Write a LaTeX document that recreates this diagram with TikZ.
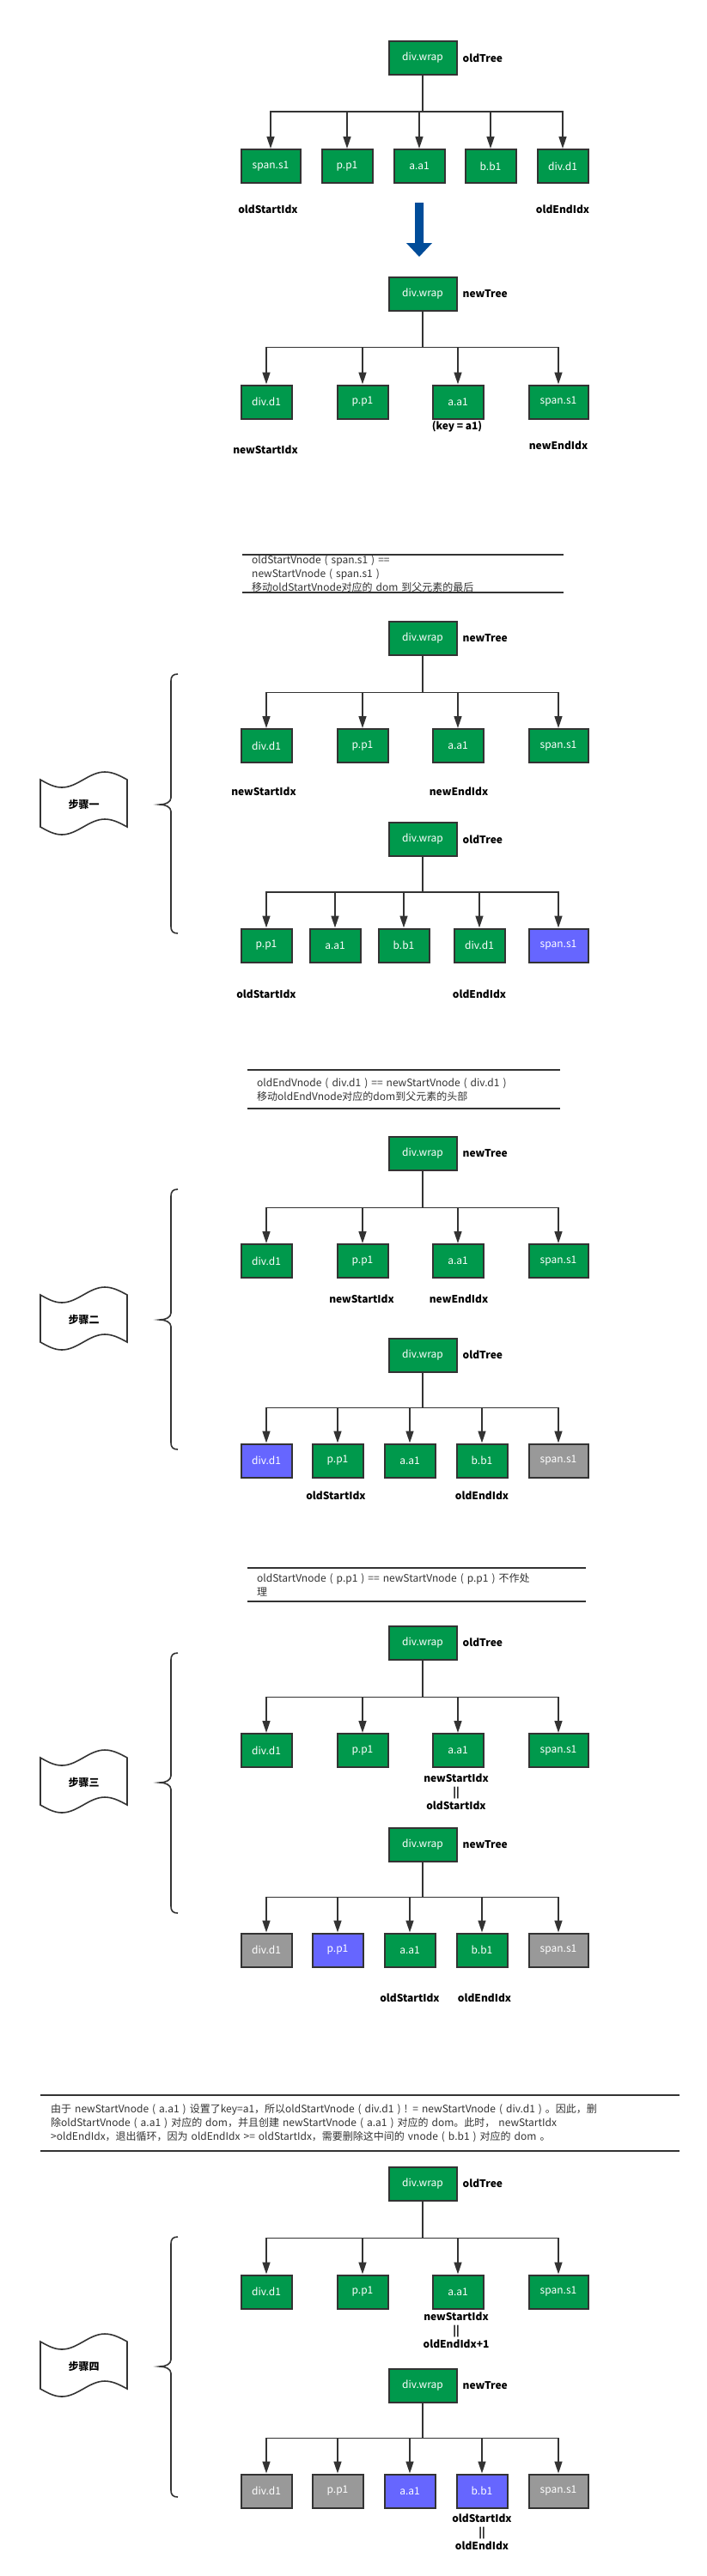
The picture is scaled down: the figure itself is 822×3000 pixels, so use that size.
\documentclass[tikz,border=0pt]{standalone}
\usepackage{fontspec}
\setmainfont{Noto Sans CJK SC}
\usepackage{tikz}
\usetikzlibrary{positioning, arrows.meta, calc}

\definecolor{vgreen}{RGB}{0,153,76}
\definecolor{vblue}{RGB}{102,102,255}
\definecolor{vgray}{RGB}{153,153,153}
\definecolor{ink}{RGB}{51,51,51}
\definecolor{bigblue}{RGB}{0,76,153}

\begin{document}
\begin{tikzpicture}[x=1pt, y=-1pt]
				\tikzset{vnode/.style={draw=ink, line width=2pt, fill=vgreen, text=white, minimum width=59pt, minimum height=39pt, inner sep=0pt, font=\fontsize{12}{14}\selectfont}}
				\tikzset{wide/.style={minimum width=69pt}}
				\tikzset{root/.style={vnode, minimum width=79pt}}
				\tikzset{moved/.style={fill=vblue}}
				\tikzset{dropped/.style={fill=vgray}}
				\tikzset{arrow/.style={-{Triangle[length=14pt, width=9pt]}, draw=ink, line width=1.6pt}}
				\tikzset{treename/.style={font=\bfseries\fontsize{12}{14}\selectfont, inner sep=0pt}}
				\tikzset{idx/.style={font=\bfseries\fontsize{12}{16}\selectfont, align=center, inner sep=0pt}}
				\tikzset{desc/.style={anchor=north west, align=left, text=ink, inner xsep=11pt, font=\fontsize{12}{16}\selectfont}}
				\tikzset{sepline/.style={draw=ink, line width=2pt}}
				\tikzset{curly/.style={draw=ink, line width=1.6pt}}
				\tikzset{tape/.style={draw=ink, line width=1.6pt, fill=white}}

				\useasboundingbox [fill=white] (0,0) rectangle (822,3000);

				% Old tree
				\node (t0root) [root] at (492,67.5) {div.wrap};
				\node (t0name) [treename, right=6pt of t0root] {oldTree};
				\node (t0a) [vnode, wide] at (315,193.5) {span.s1};
				\node (t0b) [vnode] at (404,193.5) {p.p1};
				\node (t0c) [vnode] at (488,193.5) {a.a1};
				\node (t0d) [vnode] at (571,193.5) {b.b1};
				\node (t0e) [vnode] at (655,193.5) {div.d1};
				\foreach \c in {t0a,t0b,t0c,t0d,t0e}
					\draw [arrow] (t0root.south) -- ++(0,42) -| (\c.north);
				\node (t0start) [idx] at (312,244) {oldStartIdx};
				\node (t0end) [idx] at (655,244) {oldEndIdx};

				% Big arrow
				\fill [bigblue] (483,236) -- (493,236) -- (493,283) -- (503,283) -- (488,299) -- (473,283) -- (483,283) -- cycle;

				% New tree
				\node (n0root) [root] at (492,342) {div.wrap};
				\node (n0name) [treename, right=6pt of n0root] {newTree};
				\node (n0a) [vnode] at (310,468) {div.d1};
				\node (n0b) [vnode] at (422,468) {p.p1};
				\node (n0c) [vnode] at (533,468) {a.a1};
				\node (n0d) [vnode, wide] at (650,468) {span.s1};
				\foreach \c in {n0a,n0b,n0c,n0d}
					\draw [arrow] (n0root.south) -- ++(0,42) -| (\c.north);
				\node (n0key) [idx] at (532,497) {(key = a1)};
				\node (n0start) [idx] at (309,524) {newStartIdx};
				\node (n0end) [idx] at (650,519) {newEndIdx};

				% Step 1
				\node (desc1) [desc, text width=352pt, inner ysep=0.5pt] at (282,646) {oldStartVnode ( span.s1 ) ==\\newStartVnode ( span.s1 )\\移动oldStartVnode对应的 dom 到父元素的最后};
				\draw [sepline] (desc1.north west) -- (desc1.north east);
				\draw [sepline] (desc1.south west) -- (desc1.south east);

				\node (n1root) [root] at (492,743) {div.wrap};
				\node (n1name) [treename, right=6pt of n1root] {newTree};
				\node (n1a) [vnode] at (310,868.5) {div.d1};
				\node (n1b) [vnode] at (422,868.5) {p.p1};
				\node (n1c) [vnode] at (533,868.5) {a.a1};
				\node (n1d) [vnode, wide] at (650,868.5) {span.s1};
				\foreach \c in {n1a,n1b,n1c,n1d}
					\draw [arrow] (n1root.south) -- ++(0,43) -| (\c.north);
				\node (n1start) [idx] at (307,922) {newStartIdx};
				\node (n1end) [idx] at (534,922) {newEndIdx};

				\node (o1root) [root] at (492,977.5) {div.wrap};
				\node (o1name) [treename, right=6pt of o1root] {oldTree};
				\node (o1a) [vnode] at (310,1101) {p.p1};
				\node (o1b) [vnode] at (390,1101) {a.a1};
				\node (o1c) [vnode] at (470,1101) {b.b1};
				\node (o1d) [vnode] at (558,1101) {div.d1};
				\node (o1e) [vnode, wide, moved] at (650,1101) {span.s1};
				\foreach \c in {o1a,o1b,o1c,o1d,o1e}
					\draw [arrow] (o1root.south) -- ++(0,41) -| (\c.north);
				\node (o1start) [idx] at (310,1158) {oldStartIdx};
				\node (o1end) [idx] at (558,1158) {oldEndIdx};

				% Step 2
				\node (desc2) [desc, text width=342pt, inner ysep=9pt] at (288,1246) {oldEndVnode ( div.d1 ) == newStartVnode ( div.d1 )\\移动oldEndVnode对应的dom到父元素的头部};
				\draw [sepline] (desc2.north west) -- (desc2.north east);
				\draw [sepline] (desc2.south west) -- (desc2.south east);

				\node (n2root) [root] at (492,1343) {div.wrap};
				\node (n2name) [treename, right=6pt of n2root] {newTree};
				\node (n2a) [vnode] at (310,1468.5) {div.d1};
				\node (n2b) [vnode] at (422,1468.5) {p.p1};
				\node (n2c) [vnode] at (533,1468.5) {a.a1};
				\node (n2d) [vnode, wide] at (650,1468.5) {span.s1};
				\foreach \c in {n2a,n2b,n2c,n2d}
					\draw [arrow] (n2root.south) -- ++(0,43) -| (\c.north);
				\node (n2start) [idx] at (421,1513) {newStartIdx};
				\node (n2end) [idx] at (534,1513) {newEndIdx};

				\node (o2root) [root] at (492,1578) {div.wrap};
				\node (o2name) [treename, right=6pt of o2root] {oldTree};
				\node (o2a) [vnode, moved] at (310,1701) {div.d1};
				\node (o2b) [vnode] at (393,1701) {p.p1};
				\node (o2c) [vnode] at (477,1701) {a.a1};
				\node (o2d) [vnode] at (561,1701) {b.b1};
				\node (o2e) [vnode, wide, dropped] at (650,1701) {span.s1};
				\foreach \c in {o2a,o2b,o2c,o2d,o2e}
					\draw [arrow] (o2root.south) -- ++(0,41) -| (\c.north);
				\node (o2start) [idx] at (391,1742) {oldStartIdx};
				\node (o2end) [idx] at (561,1742) {oldEndIdx};

				% Step 3
				\node (desc3) [desc, text width=372pt, inner ysep=6pt] at (288,1826) {oldStartVnode ( p.p1 ) == newStartVnode ( p.p1 ) 不作处\\理};
				\draw [sepline] (desc3.north west) -- (desc3.north east);
				\draw [sepline] (desc3.south west) -- (desc3.south east);

				\node (o3root) [root] at (492,1913) {div.wrap};
				\node (o3name) [treename, right=6pt of o3root] {oldTree};
				\node (o3a) [vnode] at (310,2038.5) {div.d1};
				\node (o3b) [vnode] at (422,2038.5) {p.p1};
				\node (o3c) [vnode] at (533,2038.5) {a.a1};
				\node (o3d) [vnode, wide] at (650,2038.5) {span.s1};
				\foreach \c in {o3a,o3b,o3c,o3d}
					\draw [arrow] (o3root.south) -- ++(0,43) -| (\c.north);
				\node (o3same) [idx] at (531,2087) {newStartIdx\\||\\oldStartIdx};

				\node (n3root) [root] at (492,2148) {div.wrap};
				\node (n3name) [treename, right=6pt of n3root] {newTree};
				\node (n3a) [vnode, dropped] at (310,2271) {div.d1};
				\node (n3b) [vnode, moved] at (393,2271) {p.p1};
				\node (n3c) [vnode] at (477,2271) {a.a1};
				\node (n3d) [vnode] at (561,2271) {b.b1};
				\node (n3e) [vnode, wide, dropped] at (650,2271) {span.s1};
				\foreach \c in {n3a,n3b,n3c,n3d,n3e}
					\draw [arrow] (n3root.south) -- ++(0,41) -| (\c.north);
				\node (n3start) [idx] at (477,2327) {oldStartIdx};
				\node (n3end) [idx] at (564,2327) {oldEndIdx};

				% Step 4
				\node (desc4) [desc, text width=720pt, inner xsep=12pt, inner ysep=10pt] at (47,2440) {由于 newStartVnode ( a.a1 ) 设置了key=a1，所以oldStartVnode ( div.d1 ) ! = newStartVnode ( div.d1 ) 。因此，删\\除oldStartVnode ( a.a1 ) 对应的 dom，并且创建 newStartVnode ( a.a1 ) 对应的 dom。此时， newStartIdx\\>oldEndIdx，退出循环，因为 oldEndIdx >= oldStartIdx，需要删除这中间的 vnode ( b.b1 ) 对应的 dom 。};
				\draw [sepline] (desc4.north west) -- (desc4.north east);
				\draw [sepline] (desc4.south west) -- (desc4.south east);

				\node (o4root) [root] at (492,2543) {div.wrap};
				\node (o4name) [treename, right=6pt of o4root] {oldTree};
				\node (o4a) [vnode] at (310,2669) {div.d1};
				\node (o4b) [vnode] at (422,2669) {p.p1};
				\node (o4c) [vnode] at (533,2669) {a.a1};
				\node (o4d) [vnode, wide] at (650,2669) {span.s1};
				\foreach \c in {o4a,o4b,o4c,o4d}
					\draw [arrow] (o4root.south) -- ++(0,43) -| (\c.north);
				\node (o4same) [idx] at (531,2714) {newStartIdx\\||\\oldEndIdx+1};

				\node (n4root) [root] at (492,2778) {div.wrap};
				\node (n4name) [treename, right=6pt of n4root] {newTree};
				\node (n4a) [vnode, dropped] at (310,2901) {div.d1};
				\node (n4b) [vnode, dropped] at (393,2901) {p.p1};
				\node (n4c) [vnode, moved] at (477,2901) {a.a1};
				\node (n4d) [vnode, moved] at (561,2901) {b.b1};
				\node (n4e) [vnode, wide, dropped] at (650,2901) {span.s1};
				\foreach \c in {n4a,n4b,n4c,n4d,n4e}
					\draw [arrow] (n4root.south) -- ++(0,41) -| (\c.north);
				\node (n4same) [idx] at (561,2949) {oldStartIdx\\||\\oldEndIdx};

				% Braces and step tags
				\foreach \t/\m/\b/\s/\txt in {785/937/1087/1/步骤一, 1385/1537/1688/2/步骤二, 1925/2076/2228/3/步骤三, 2605/2756/2908/4/步骤四} {
					\draw [curly] (207,\t) .. controls (201,\t) and (199,\t+3) .. (199,\t+8) -- (199,\m-8)
						.. controls (199,\m-3) and (193,\m) .. (186,\m)
						.. controls (193,\m) and (199,\m+3) .. (199,\m+8) -- (199,\b-8)
						.. controls (199,\b-3) and (201,\b) .. (207,\b);
					\draw [tape] (47,\m-29) sin (72,\m-20) cos (97,\m-29) sin (122,\m-38) cos (148,\m-29)
						-- (148,\m+26) sin (122,\m+17) cos (97,\m+26) sin (72,\m+35) cos (47,\m+26) -- cycle;
					\node (step\s) [treename] at (97.5,\m) {\txt};
				}

			\end{tikzpicture}
\end{document}
